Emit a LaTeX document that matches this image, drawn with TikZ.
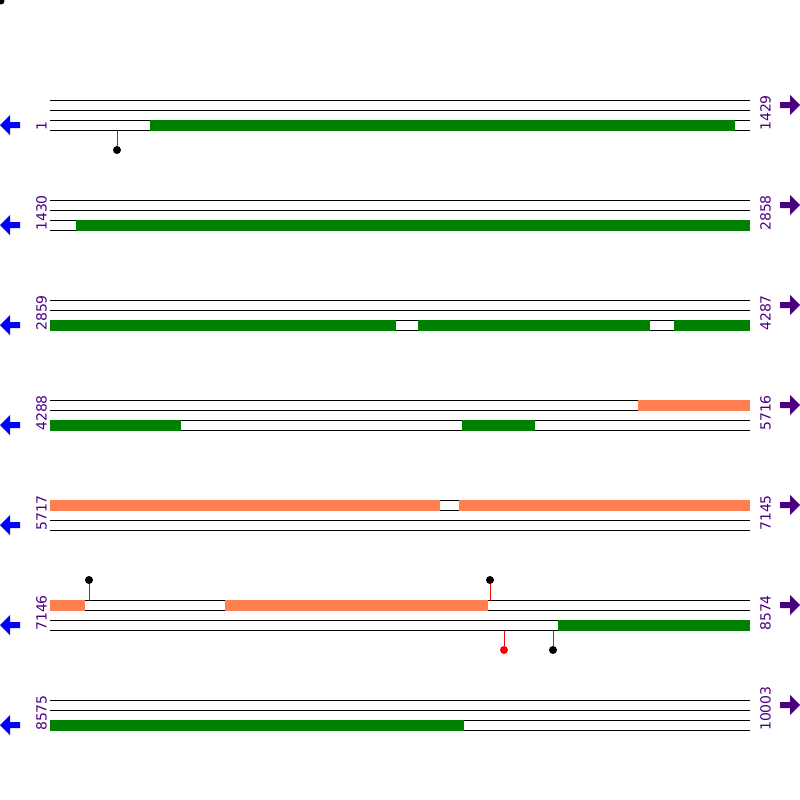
\documentclass[tikz,border=0pt]{standalone}
\usepackage{fontspec}
\setmainfont{DejaVu Sans}
\usetikzlibrary{positioning}
\definecolor{Cds}{HTML}{008000}
\definecolor{Coral}{HTML}{FF7F50}
\definecolor{Indigo}{HTML}{4B0082}
\definecolor{Strand}{HTML}{0000FF}

\begin{document}
\begin{tikzpicture}[x=1pt,y=-1pt,
  track/.style={line width=1pt,black},
  cds/.style={fill=Cds},
  rna/.style={fill=Coral},
  seqnum/.style={rotate=90,anchor=west,inner sep=0pt,text=Indigo,
    font=\fontsize{14}{14}\selectfont},
  stem/.style={line width=1pt,red},
  head/.style={circle,fill=black,inner sep=0pt,minimum size=8pt},
  redhead/.style={head,fill=red},
  fwd/.style={fill=Indigo},
  rev/.style={fill=Strand}]
  \useasboundingbox (0,0) rectangle (800,800);
  \fill (1,1) circle (3.5);

  % four tracks per row
  \foreach \r in {100,200,...,700}{
    \foreach \d in {0,10,20,30}
      \draw[track] (50,\r+\d+0.5) -- (750,\r+\d+0.5);
    \fill[rev] (0,\r+25) -- (10,\r+15) -- (10,\r+22) -- (20,\r+22)
      -- (20,\r+28) -- (10,\r+28) -- (10,\r+35) -- cycle;
    \fill[fwd] (800,\r+5) -- (790,\r-5) -- (790,\r+2) -- (780,\r+2)
      -- (780,\r+8) -- (790,\r+8) -- (790,\r+15) -- cycle;
  }

  % row 1
  \node[seqnum] (s1) at (41.5,131) {1};
  \node[seqnum] (e1) at (765.5,131) {1429};
  \fill[cds] (150,120) rectangle (735,131);
  \coordinate (m1) at (117,130.5);
  \node[head] (h1) at (117,150) {};
  \draw[stem] (m1) -- (h1);

  % row 2
  \node[seqnum] (s2) at (41.5,231) {1430};
  \node[seqnum] (e2) at (765.5,231) {2858};
  \fill[cds] (76,220) rectangle (750,231);

  % row 3
  \node[seqnum] (s3) at (41.5,331) {2859};
  \node[seqnum] (e3) at (765.5,331) {4287};
  \fill[cds] (50,320) rectangle (396,331);
  \fill[cds] (418,320) rectangle (650,331);
  \fill[cds] (674,320) rectangle (750,331);

  % row 4
  \node[seqnum] (s4) at (41.5,431) {4288};
  \node[seqnum] (e4) at (765.5,431) {5716};
  \fill[rna] (638,400) rectangle (750,411);
  \fill[cds] (50,420) rectangle (181,431);
  \fill[cds] (462,420) rectangle (535,431);

  % row 5
  \node[seqnum] (s5) at (41.5,531) {5717};
  \node[seqnum] (e5) at (765.5,531) {7145};
  \fill[rna] (50,500) rectangle (440,511);
  \fill[rna] (459,500) rectangle (750,511);

  % row 6
  \node[seqnum] (s6) at (41.5,631) {7146};
  \node[seqnum] (e6) at (765.5,631) {8574};
  \fill[rna] (50,600) rectangle (85,611);
  \fill[rna] (225,600) rectangle (488,611);
  \fill[cds] (558,620) rectangle (750,631);
  \coordinate (m2) at (89,600.5);
  \node[head] (h2) at (89,580) {};
  \draw[stem] (m2) -- (h2);
  \coordinate (m3) at (490,600.5);
  \node[head] (h3) at (490,580) {};
  \draw[stem] (m3) -- (h3);
  \coordinate (m4) at (504,630.5);
  \node[redhead] (h4) at (504,650) {};
  \draw[stem] (m4) -- (h4);
  \coordinate (m5) at (553,630.5);
  \node[head] (h5) at (553,650) {};
  \draw[stem] (m5) -- (h5);

  % row 7
  \node[seqnum] (s7) at (41.5,731) {8575};
  \node[seqnum] (e7) at (765.5,731) {10003};
  \fill[cds] (50,720) rectangle (464,731);
\end{tikzpicture}
\end{document}
